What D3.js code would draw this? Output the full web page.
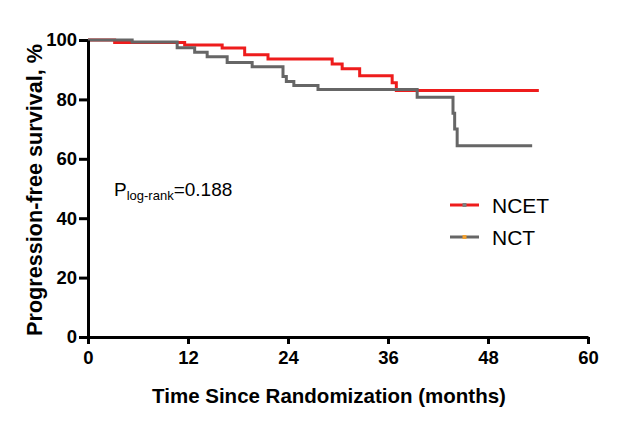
<!DOCTYPE html>
<html><head><meta charset="utf-8">
<script src="https://cdn.jsdelivr.net/npm/d3@7"></script>
<style>body{margin:0;background:#fff}svg{display:block}text{font-family:"Liberation Sans",Arial,sans-serif}</style>
</head><body><svg id="c" width="623" height="433"></svg>
<script>
const monthsNCET = [0, 3.2, 11.6, 16.1, 18.8, 21.6, 29.3, 30.5, 32.6, 36.5, 37.0, 54.1];
const survNCET   = [100, 99.2, 98.3, 97.3, 95.0, 93.6, 91.9, 90.3, 88.0, 85.6, 83.0, 83.0];
const monthsNCT  = [0, 5.3, 10.7, 12.8, 14.3, 16.7, 19.7, 23.4, 23.8, 24.7, 27.6, 39.5, 43.8, 44.0, 44.3, 53.3];
const survNCT    = [100, 99.3, 97.4, 95.9, 94.4, 92.4, 91.0, 87.7, 86.0, 84.7, 83.3, 80.7, 75.3, 70.0, 64.4, 64.4];
const xTicks = [0, 12, 24, 36, 48, 60];
const yTicks = [0, 20, 40, 60, 80, 100];
const seriesNames = ["NCET", "NCT"];
const pText = "=0.188";

const svg = d3.select("#c");
const x = d3.scaleLinear().domain([0, 60]).range([88, 588]);
const y = d3.scaleLinear().domain([0, 100]).range([337, 40]);

const line = d3.line().x(d => x(d[0])).y(d => y(d[1])).curve(d3.curveStepAfter);
const ncet = monthsNCET.map((m, i) => [m, survNCET[i]]);
const nct = monthsNCT.map((m, i) => [m, survNCT[i]]);

svg.append("path").attr("d", line(ncet)).attr("fill", "none").attr("stroke", "#ee1c1c").attr("stroke-width", 3);
svg.append("path").attr("d", line(nct)).attr("fill", "none").attr("stroke", "#666666").attr("stroke-width", 3);

// axes
const yAxis = svg.append("g").attr("transform", "translate(88,0)")
  .call(d3.axisLeft(y).tickValues(yTicks).tickSize(9).tickPadding(2).tickSizeOuter(0));
const xAxis = svg.append("g").attr("transform", "translate(0,337)")
  .call(d3.axisBottom(x).tickValues(xTicks).tickSize(7).tickPadding(7).tickSizeOuter(0));
[yAxis, xAxis].forEach(g => {
  g.select(".domain").attr("stroke", "#000").attr("stroke-width", 3);
  g.selectAll(".tick line").attr("stroke", "#000").attr("stroke-width", 3);
  g.selectAll(".tick text").attr("fill", "#000").attr("font-size", 18.5).attr("font-weight", "bold")
    .style("font-family", "'Liberation Sans',Arial,sans-serif");
});

function fit(sel, target) {
  const w = sel.node().getComputedTextLength();
  const fs = +sel.attr("font-size");
  sel.attr("font-size", fs * target / w);
}
// titles
const yt = svg.append("text").attr("transform", "translate(42,190) rotate(-90)").attr("text-anchor", "middle")
  .attr("font-size", 20).attr("font-weight", "bold").text("Progression-free survival, %");
fit(yt, 292);
const xt = svg.append("text").attr("x", 329).attr("y", 403).attr("text-anchor", "middle")
  .attr("font-size", 20).attr("font-weight", "bold").text("Time Since Randomization (months)");
fit(xt, 354);

// p-value
const pt = svg.append("text").attr("x", 114).attr("y", 196).attr("font-size", 19);
pt.append("tspan").text("P");
pt.append("tspan").attr("font-size", 13).attr("dy", 4).text("log-rank");
pt.append("tspan").attr("dy", -4).text(pText);

// legend
const lg = [{name: seriesNames[0], c: "#ee1c1c", m: "#808080", yy: 205}, {name: seriesNames[1], c: "#666666", m: "#f0a030", yy: 237}];
lg.forEach(d => {
  svg.append("line").attr("x1", 450).attr("x2", 479).attr("y1", d.yy).attr("y2", d.yy).attr("stroke", d.c).attr("stroke-width", 3);
  svg.append("rect").attr("x", 462.5).attr("y", d.yy - 2).attr("width", 4).attr("height", 4).attr("fill", d.m);
  svg.append("text").attr("x", 492).attr("y", d.yy + 8).attr("font-size", 21).text(d.name);
});
</script></body></html>
